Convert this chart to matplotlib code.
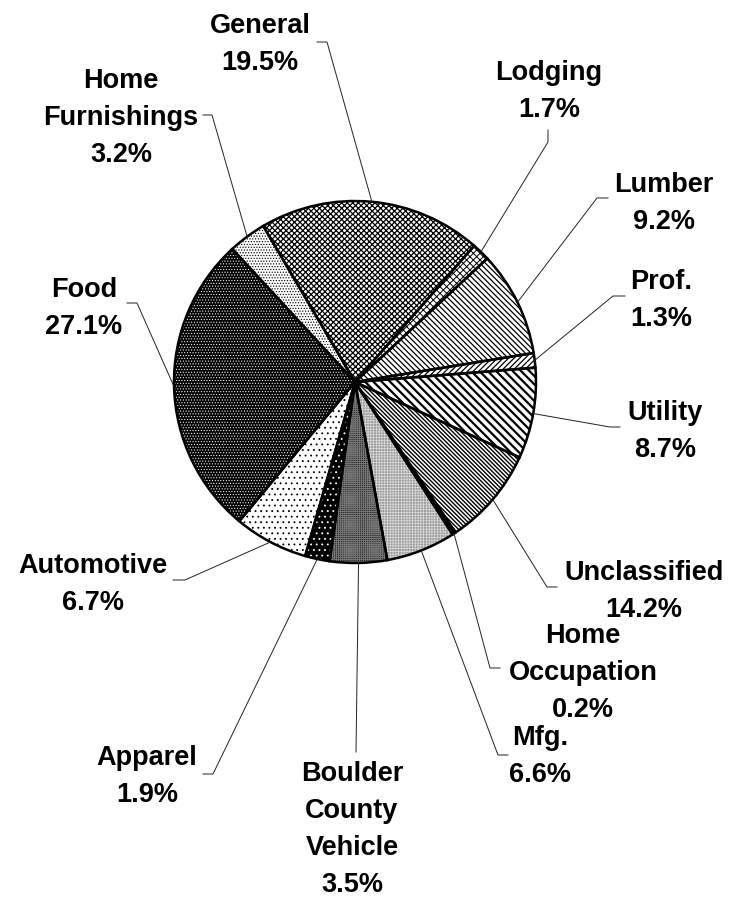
import matplotlib
matplotlib.use("Agg")
import matplotlib.pyplot as plt
import numpy as np

# slice order, clockwise from the Home Furnishings / Food boundary
names = ["Home\nFurnishings", "General", "Lodging", "Lumber", "Prof.", "Utility",
         "Unclassified", "Home\nOccupation", "Mfg.", "Boulder\nCounty\nVehicle",
         "Apparel", "Automotive", "Food"]
pct_labels = ["3.2%", "19.5%", "1.7%", "9.2%", "1.3%", "8.7%", "14.2%", "0.2%",
              "6.6%", "3.5%", "1.9%", "6.7%", "27.1%"]
# slice sizes as drawn in the picture (percent of the circle)
shares = [3.4, 19.9, 1.6, 9.4, 1.3, 8.1, 8.8, 0.3, 6.2, 5.1, 2.2, 6.6, 27.1]

W, H = 731, 897
fig = plt.figure(figsize=(W / 100, H / 100), dpi=100)
ax = fig.add_axes([0, 0, 1, 1])

cx, cy, r = 355, H - 382, 181

# fill style per slice: face colour, hatch colour, hatch, hatch width
styles = [
    ("white",   "black",   "." * 6,  0.55),  # Home Furnishings
    ("white",   "black",   "x" * 6,  0.9),   # General
    ("white",   "black",   "x" * 5,  0.7),   # Lodging
    ("white",   "black",   "\\" * 6, 0.9),   # Lumber
    ("white",   "black",   "/" * 6,  0.9),   # Prof.
    ("white",   "black",   "\\" * 4, 1.6),   # Utility
    ("white",   "black",   "\\" * 8, 1.0),   # Unclassified
    ("black",   "black",   "",       1.0),   # Home Occupation
    ("#9c9c9c", "#dcdcdc", "+" * 6,  0.5),   # Mfg.
    ("#1e1e1e", "#767676", "+" * 8,  0.7),   # Boulder County Vehicle
    ("black",   "white",   "." * 3,  0.6),   # Apparel
    ("white",   "black",   "." * 3,  0.6),   # Automotive
    ("black",   "white",   "." * 6,  0.45),  # Food
]

wedges, _ = ax.pie(shares, startangle=132.7, counterclock=False,
                   center=(cx, cy), radius=r, wedgeprops=dict(linewidth=0))
for w, (fc, hc, hatch, hlw) in zip(wedges, styles):
    w.set_facecolor(fc)
    w.set_edgecolor(hc)
    w.set_linewidth(0)
    if hatch:
        w.set_hatch(hatch)
        if hasattr(w, "set_hatch_linewidth"):
            w.set_hatch_linewidth(hlw)

# outlines on top
ax.pie(shares, startangle=132.7, counterclock=False, center=(cx, cy), radius=r,
       wedgeprops=dict(fill=False, edgecolor="black", linewidth=1.8))

# label block positions (centre x, centre y of first line) and leader elbows, pixel coords
label_pos = [(121, 78), (260, 23), (549, 70), (664, 182), (661, 279), (665, 410),
             (644, 570), (583, 633), (540, 735), (352, 771), (147, 755), (93, 563),
             (84, 287)]
leaders = [((212, 115), (203, 115)), ((327, 42), (317, 42)), ((548, 142), (548, 130)),
           ((597, 198), (608, 198)), ((613, 296), (625, 296)), ((610, 427), (620, 427)),
           ((547, 587), (557, 587)), ((490, 668), (500, 668)), ((498, 755), (508, 755)),
           ((356, 752), (356, 752)), ((213, 774), (203, 774)), ((185, 580), (173, 580)),
           ((137, 303), (127, 303))]

step = 37
for w, name, pct, (lx, ly), (elbow, end) in zip(wedges, names, pct_labels, label_pos, leaders):
    lines = name.split("\n") + [pct]
    for i, s in enumerate(lines):
        ax.text(lx, H - (ly + i * step + 10), s, ha="center", va="baseline",
                fontsize=19.5, fontweight="bold", family="Liberation Sans")
    mid = np.deg2rad((w.theta1 + w.theta2) / 2)
    px, py = cx + r * np.cos(mid), cy + r * np.sin(mid)
    ax.plot([px, elbow[0], end[0]], [py, H - elbow[1], H - end[1]],
            color="#222222", linewidth=0.7)

ax.set_xlim(0, W)
ax.set_ylim(0, H)
ax.set_aspect("equal")
ax.axis("off")

fig.savefig("out.png", dpi=100, facecolor="white")
